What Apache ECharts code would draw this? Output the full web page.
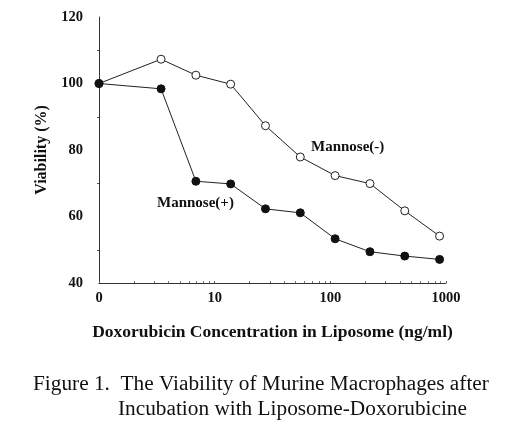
<!DOCTYPE html>
<html><head><meta charset="utf-8">
<script src="https://cdn.jsdelivr.net/npm/echarts@6/dist/echarts.min.js"></script>
<style>html,body{margin:0;padding:0;background:#fff}#c{width:520px;height:432px}</style>
</head><body><div id="c"></div>
<script>
// concentration (ng/ml); 0 is plotted at the axis origin (labelled "0")
var concentrations = [0, 3.44, 6.88, 13.75, 27.5, 55, 110, 220, 440, 880];
var mannoseMinus = [100, 107.3, 102.5, 99.8, 87.3, 77.9, 72.3, 69.9, 61.7, 54.1];
var mannosePlus  = [100, 98.4, 70.6, 69.8, 62.3, 61.1, 53.3, 49.4, 48.1, 47.1];
var xTickLabels = {1: '0', 10: '10', 100: '100', 1000: '1000'};
var yTicks = [40, 60, 80, 100, 120];
var captionLines = ['Figure 1.  The Viability of Murine Macrophages after', 'Incubation with Liposome-Doxorubicine'];

var ORIGIN = 1;
function pts(vals) {
  return concentrations.map(function (c, i) { return [c === 0 ? ORIGIN : c, vals[i]]; });
}
var F = 'Liberation Serif';
var chart = echarts.init(document.getElementById('c'));
chart.setOption({
  animation: false,
  backgroundColor: '#fff',
  grid: {left: 99, right: 74, top: 17, bottom: 149},
  xAxis: {
    type: 'log', logBase: 10, min: 1, max: 1000,
    name: 'Doxorubicin Concentration in Liposome (ng/ml)',
    nameLocation: 'middle', nameGap: 40,
    nameTextStyle: {fontFamily: F, fontWeight: 'bold', fontSize: 17.5, color: '#111'},
    axisLine: {lineStyle: {color: '#333', width: 1}},
    axisTick: {show: true, inside: true, length: 2, lineStyle: {color: '#555'}},
    minorTick: {show: true, splitNumber: 9, length: 2, lineStyle: {color: '#777'}},
    splitLine: {show: false},
    axisLabel: {fontFamily: F, fontWeight: 'bold', fontSize: 14.5, color: '#111', margin: 8,
      formatter: function (v) { return xTickLabels[Math.round(v)] || ''; }}
  },
  yAxis: {
    type: 'value', min: yTicks[0], max: yTicks[yTicks.length - 1], interval: 20,
    name: 'Viability (%)', nameLocation: 'middle', nameGap: 45, nameRotate: 90,
    nameTextStyle: {fontFamily: F, fontWeight: 'bold', fontSize: 16, color: '#111'},
    axisLine: {show: true, lineStyle: {color: '#333', width: 1}},
    axisTick: {show: false},
    minorTick: {show: true, splitNumber: 2, length: 2, lineStyle: {color: '#555'}},
    splitLine: {show: false},
    axisLabel: {fontFamily: F, fontWeight: 'bold', fontSize: 14.5, color: '#111', margin: 16}
  },
  series: [
    {type: 'line', name: 'Mannose(-)', data: pts(mannoseMinus), symbol: 'circle', symbolSize: 8,
      lineStyle: {color: '#222', width: 1}, itemStyle: {color: '#fff', borderColor: '#222', borderWidth: 1}, z: 3},
    {type: 'line', name: 'Mannose(+)', data: pts(mannosePlus), symbol: 'circle', symbolSize: 8,
      lineStyle: {color: '#222', width: 1}, itemStyle: {color: '#111', borderColor: '#111', borderWidth: 1}, z: 4}
  ],
  graphic: [
    {type: 'text', left: 157, top: 196, style: {text: 'Mannose(+)', font: 'bold 15px "Liberation Serif"', fill: '#111'}},
    {type: 'text', left: 311, top: 140, style: {text: 'Mannose(-)', font: 'bold 15px "Liberation Serif"', fill: '#111'}},
    {type: 'text', left: 33, top: 374, style: {text: captionLines[0], font: '21.3px "Liberation Serif"', fill: '#111'}},
    {type: 'text', left: 118, top: 399, style: {text: captionLines[1], font: '21.3px "Liberation Serif"', fill: '#111'}}
  ]
});
</script></body></html>
